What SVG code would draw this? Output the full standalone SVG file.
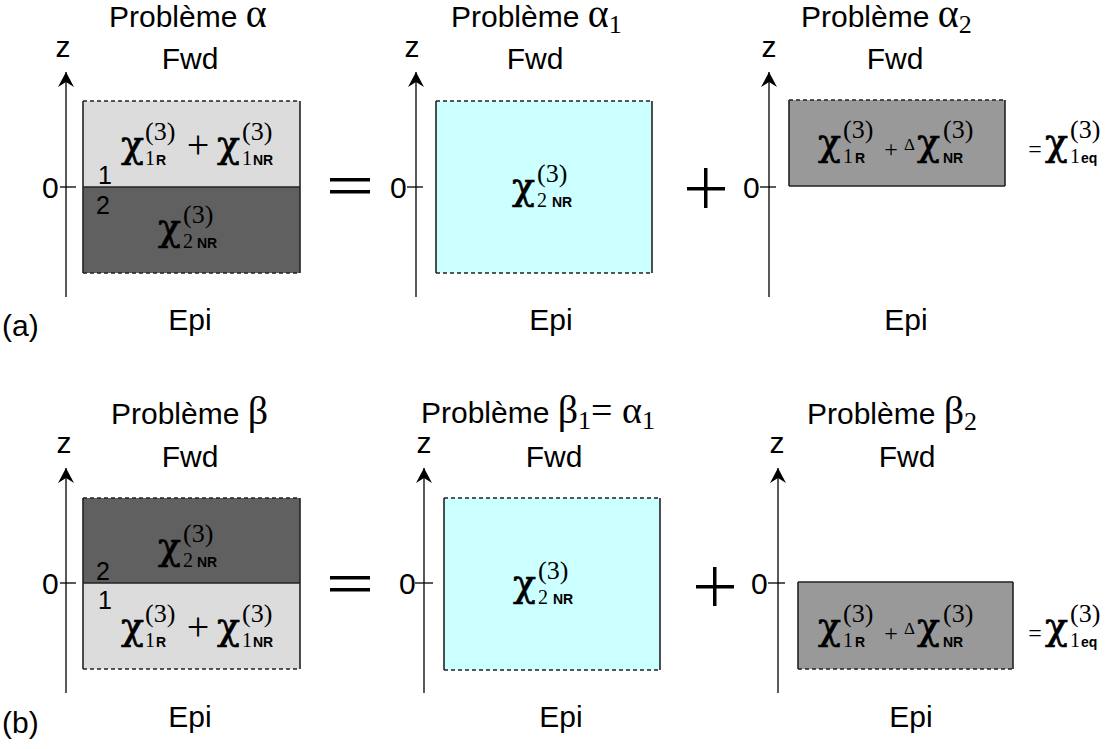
<svg xmlns="http://www.w3.org/2000/svg" width="1115" height="749" viewBox="0 0 1115 749">
<defs>
<marker id="arr" markerUnits="userSpaceOnUse" markerWidth="20" markerHeight="20" refX="15" refY="8" orient="auto">
<path d="M15,8 L0,0 L5,8 L0,16 Z" fill="#000"/>
</marker>
<style>
.s{font-family:"Liberation Sans",Arial,sans-serif;font-size:30px;fill:#000}
.t{font-family:"Liberation Serif","Times New Roman",serif;fill:#000}
.chi{font-family:"DejaVu Serif",serif;font-size:38px;fill:#000;stroke:#000;stroke-width:0.6}
.sup{font-family:"Liberation Serif","Times New Roman",serif;font-size:26px;fill:#000}
.sd{font-family:"Liberation Serif","Times New Roman",serif;font-size:20px;fill:#000}
.sl{font-family:"Liberation Sans",Arial,sans-serif;font-size:14px;font-weight:bold;fill:#000}
.num{font-family:"Liberation Sans",Arial,sans-serif;font-size:25px;fill:#000}
.axis{stroke:#000;stroke-width:1.3;fill:none}
.side{stroke:#222;stroke-width:1.6;fill:none}
.dash{stroke:#222;stroke-width:1.3;stroke-dasharray:4,3;fill:none}
.big{fill:#000}
.c{text-anchor:middle}
</style>
</defs>

<!-- ===== Panel (a) left ===== -->
<g id="a1">
<text class="s" x="109" y="27">Problème <tspan class="t" font-size="40">α</tspan></text>
<text class="s c" x="190" y="69">Fwd</text>
<text class="s c" x="190" y="330">Epi</text>
<text class="s" x="2" y="336" font-size="32">(a)</text>
<rect x="83" y="101" width="217" height="86" fill="#dcdcdc"/>
<rect x="83" y="187" width="217" height="86" fill="#606060"/>
<line class="dash" x1="83" y1="101" x2="300" y2="101"/>
<line class="dash" x1="83" y1="273" x2="300" y2="273"/>
<line class="side" x1="83" y1="101" x2="83" y2="273"/>
<line class="side" x1="300" y1="101" x2="300" y2="273"/>
<line class="side" x1="83" y1="187" x2="300" y2="187"/>
<text class="num" x="98" y="184">1</text>
<text class="num" x="96" y="214">2</text>
<text class="chi" x="121" y="157">χ</text><text class="sup" x="145" y="140">(3)</text><text class="sd" x="145" y="165">1</text><text class="sl" x="156" y="165">R</text>
<text class="t c" x="198" y="158" font-size="40">+</text>
<text class="chi" x="217" y="157">χ</text><text class="sup" x="242" y="140">(3)</text><text class="sd" x="242" y="165">1</text><text class="sl" x="253" y="165">NR</text>
<text class="chi" x="158" y="240">χ</text><text class="sup" x="183" y="223">(3)</text><text class="sd" x="183" y="248">2</text><text class="sl" x="197" y="248">NR</text>
</g>

<!-- ===== Panel (a) middle ===== -->
<g id="a2">
<text class="s" x="451" y="27">Problème <tspan class="t" font-size="40">α</tspan><tspan class="t" font-size="26" dy="6">1</tspan></text>
<text class="s c" x="535" y="69">Fwd</text>
<text class="s c" x="551" y="330">Epi</text>
<rect x="436" y="101" width="216" height="172" fill="#ccffff"/>
<line class="dash" x1="436" y1="101" x2="652" y2="101"/>
<line class="dash" x1="436" y1="273" x2="652" y2="273"/>
<line class="side" x1="436" y1="101" x2="436" y2="273"/>
<line class="side" x1="652" y1="101" x2="652" y2="273"/>
<text class="chi" x="512" y="199">χ</text><text class="sup" x="537" y="182">(3)</text><text class="sd" x="537" y="207">2</text><text class="sl" x="552" y="207">NR</text>
</g>

<!-- ===== Panel (a) right ===== -->
<g id="a3">
<text class="s" x="801" y="27">Problème <tspan class="t" font-size="40">α</tspan><tspan class="t" font-size="26" dy="6">2</tspan></text>
<text class="s c" x="895" y="69">Fwd</text>
<text class="s c" x="906" y="330">Epi</text>
<rect x="789" y="100" width="216" height="86" fill="#999999"/>
<line class="dash" x1="789" y1="100" x2="1005" y2="100"/>
<line class="side" x1="789" y1="186" x2="1005" y2="186"/>
<line class="side" x1="789" y1="100" x2="789" y2="186"/>
<line class="side" x1="1005" y1="100" x2="1005" y2="186"/>
<text class="chi" x="818" y="155">χ</text><text class="sup" x="843" y="138">(3)</text><text class="sd" x="843" y="163">1</text><text class="sl" x="855" y="163">R</text>
<text class="t c" x="891" y="157" font-size="24">+</text>
<text class="t" x="904" y="150" font-size="17">Δ</text>
<text class="chi" x="917" y="155">χ</text><text class="sup" x="943" y="138">(3)</text><text class="sl" x="943" y="163">NR</text>
<text class="t c" x="1035" y="157" font-size="24">=</text>
<text class="chi" x="1045" y="155">χ</text><text class="sup" x="1070" y="138">(3)</text><text class="sd" x="1070" y="163">1</text><text class="sl" x="1081" y="163">eq</text>
</g>

<!-- ===== Panel (b) left ===== -->
<g id="b1">
<text class="s" x="111" y="424">Problème <tspan class="t" font-size="40">β</tspan></text>
<text class="s c" x="190" y="467">Fwd</text>
<text class="s c" x="190" y="727">Epi</text>
<text class="s" x="2" y="733" font-size="32">(b)</text>
<rect x="83" y="498" width="217" height="85" fill="#606060"/>
<rect x="83" y="583" width="217" height="86" fill="#dcdcdc"/>
<line class="dash" x1="83" y1="498" x2="300" y2="498"/>
<line class="dash" x1="83" y1="669" x2="300" y2="669"/>
<line class="side" x1="83" y1="498" x2="83" y2="669"/>
<line class="side" x1="300" y1="498" x2="300" y2="669"/>
<line class="side" x1="83" y1="583" x2="300" y2="583"/>
<text class="num" x="96" y="580">2</text>
<text class="num" x="98" y="609">1</text>
<text class="chi" x="158" y="559">χ</text><text class="sup" x="183" y="542">(3)</text><text class="sd" x="183" y="567">2</text><text class="sl" x="197" y="567">NR</text>
<text class="chi" x="121" y="639">χ</text><text class="sup" x="145" y="622">(3)</text><text class="sd" x="145" y="647">1</text><text class="sl" x="156" y="647">R</text>
<text class="t c" x="198" y="640" font-size="40">+</text>
<text class="chi" x="217" y="639">χ</text><text class="sup" x="242" y="622">(3)</text><text class="sd" x="242" y="647">1</text><text class="sl" x="253" y="647">NR</text>
</g>

<!-- ===== Panel (b) middle ===== -->
<g id="b2">
<text class="s" x="421" y="423">Problème <tspan class="t" font-size="40">β</tspan><tspan class="t" font-size="26" dy="6">1</tspan><tspan class="t" font-size="38" dy="-6">= α</tspan><tspan class="t" font-size="26" dy="6">1</tspan></text>
<text class="s c" x="554" y="467">Fwd</text>
<text class="s c" x="561" y="727">Epi</text>
<rect x="444" y="498" width="216" height="172" fill="#ccffff"/>
<line class="dash" x1="444" y1="498" x2="660" y2="498"/>
<line class="dash" x1="444" y1="670" x2="660" y2="670"/>
<line class="side" x1="444" y1="498" x2="444" y2="670"/>
<line class="side" x1="660" y1="498" x2="660" y2="670"/>
<text class="chi" x="513" y="596">χ</text><text class="sup" x="538" y="579">(3)</text><text class="sd" x="538" y="604">2</text><text class="sl" x="553" y="604">NR</text>
</g>

<!-- ===== Panel (b) right ===== -->
<g id="b3">
<text class="s" x="807" y="424">Problème <tspan class="t" font-size="40">β</tspan><tspan class="t" font-size="26" dy="6">2</tspan></text>
<text class="s c" x="907" y="467">Fwd</text>
<text class="s c" x="911" y="727">Epi</text>
<rect x="798" y="582" width="215" height="87" fill="#999999"/>
<line class="side" x1="798" y1="582" x2="1013" y2="582"/>
<line class="dash" x1="798" y1="669" x2="1013" y2="669"/>
<line class="side" x1="798" y1="582" x2="798" y2="669"/>
<line class="side" x1="1013" y1="582" x2="1013" y2="669"/>
<text class="chi" x="818" y="639">χ</text><text class="sup" x="843" y="622">(3)</text><text class="sd" x="843" y="647">1</text><text class="sl" x="855" y="647">R</text>
<text class="t c" x="891" y="641" font-size="24">+</text>
<text class="t" x="904" y="634" font-size="17">Δ</text>
<text class="chi" x="917" y="639">χ</text><text class="sup" x="943" y="622">(3)</text><text class="sl" x="943" y="647">NR</text>
<text class="t c" x="1035" y="641" font-size="24">=</text>
<text class="chi" x="1045" y="639">χ</text><text class="sup" x="1070" y="622">(3)</text><text class="sd" x="1070" y="647">1</text><text class="sl" x="1081" y="647">eq</text>
</g>

<!-- ===== Axes ===== -->
<g id="axes">
<line class="axis" x1="66" y1="297" x2="66" y2="72" marker-end="url(#arr)"/>
<line class="axis" x1="60" y1="187" x2="76" y2="187"/>
<text class="s" x="42" y="198">0</text>
<text class="s c" x="63" y="57" font-size="28">z</text>

<line class="axis" x1="416" y1="297" x2="416" y2="72" marker-end="url(#arr)"/>
<line class="axis" x1="407" y1="187" x2="423" y2="187"/>
<text class="s" x="390" y="198">0</text>
<text class="s c" x="412" y="57" font-size="28">z</text>

<line class="axis" x1="769" y1="297" x2="769" y2="72" marker-end="url(#arr)"/>
<line class="axis" x1="760" y1="187" x2="776" y2="187"/>
<text class="s" x="743" y="198">0</text>
<text class="s c" x="769" y="57" font-size="28">z</text>

<line class="axis" x1="66" y1="693" x2="66" y2="468" marker-end="url(#arr)"/>
<line class="axis" x1="60" y1="583" x2="76" y2="583"/>
<text class="s" x="42" y="594">0</text>
<text class="s c" x="64" y="453" font-size="28">z</text>

<line class="axis" x1="424" y1="693" x2="424" y2="468" marker-end="url(#arr)"/>
<line class="axis" x1="415" y1="583" x2="433" y2="583"/>
<text class="s" x="399" y="594">0</text>
<text class="s c" x="424" y="453" font-size="28">z</text>

<line class="axis" x1="778" y1="693" x2="778" y2="468" marker-end="url(#arr)"/>
<line class="axis" x1="768" y1="583" x2="785" y2="583"/>
<text class="s" x="751" y="594">0</text>
<text class="s c" x="777" y="453" font-size="28">z</text>
</g>

<!-- ===== Operators ===== -->
<g id="operators">
<rect class="big" x="330" y="178" width="40" height="3.5"/>
<rect class="big" x="330" y="190" width="40" height="3.5"/>
<rect class="big" x="687" y="187" width="38" height="3.5"/>
<rect class="big" x="704" y="168" width="3.5" height="40"/>
<rect class="big" x="330" y="576" width="40" height="3.5"/>
<rect class="big" x="330" y="588" width="40" height="3.5"/>
<rect class="big" x="696" y="585" width="38" height="3.5"/>
<rect class="big" x="713" y="567" width="3.5" height="39"/>
</g>
</svg>
